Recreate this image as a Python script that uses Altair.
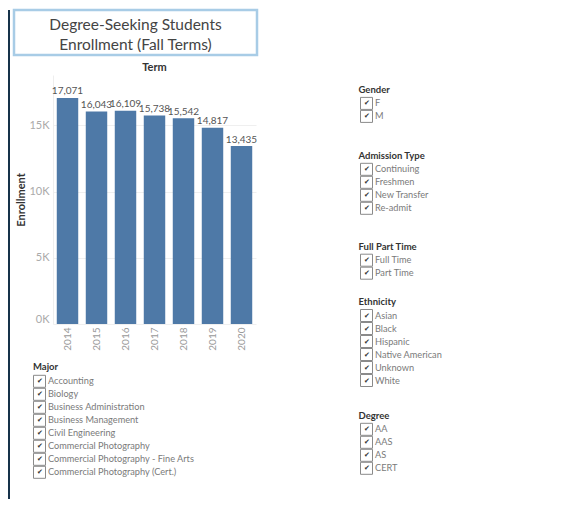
import altair as alt
import pandas as pd

# ---- data ----
years = ["2014", "2015", "2016", "2017", "2018", "2019", "2020"]
enrollment = [17071, 16043, 16109, 15738, 15542, 14817, 13435]
y_ticks = [0, 5000, 10000, 15000]
title_lines = ["Degree-Seeking Students", "Enrollment (Fall Terms)"]

majors = ["Accounting", "Biology", "Business Administration", "Business Management",
          "Civil Engineering", "Commercial Photography",
          "Commercial Photography - Fine Arts", "Commercial Photography (Cert.)"]
genders = ["F", "M"]
admission_types = ["Continuing", "Freshmen", "New Transfer", "Re-admit"]
full_part_time = ["Full Time", "Part Time"]
ethnicities = ["Asian", "Black", "Hispanic", "Native American", "Unknown", "White"]
degrees = ["AA", "AAS", "AS", "CERT"]

FONT = "Lato"
BAR = "#4e79a7"
NAVY = "#17324a"

# ---- title box ----
title_df = pd.DataFrame({"t": ["\n".join(title_lines)]})
title_box = alt.Chart(title_df).mark_text(
    lineBreak="\n", lineHeight=20, fontSize=15.5, color="#444", font=FONT,
    align="center", baseline="middle"
).encode(text="t:N", x=alt.value(121.5), y=alt.value(15)).properties(
    width=243, height=45,
    view=alt.ViewBackground(stroke="#a8cce6", strokeWidth=2.5, fill="white")
)

# ---- bar chart ----
bar_df = pd.DataFrame({"Term": years, "Enrollment": enrollment})
base = alt.Chart(bar_df).encode(
    x=alt.X("Term:O", sort=None,
            scale=alt.Scale(paddingInner=0.26, paddingOuter=0.13),
            axis=alt.Axis(title=None, labelAngle=-90, labelColor="#999",
                          labelFontSize=10, ticks=False, domain=False,
                          labelPadding=3, labelFont=FONT)),
    y=alt.Y("Enrollment:Q", scale=alt.Scale(domain=[0, 18800], nice=False),
            axis=alt.Axis(values=y_ticks, labelExpr="datum.value / 1000 + 'K'",
                          title="Enrollment", titleFontSize=11, titleFontWeight="bold",
                          titleColor="#333", titleFont=FONT, titlePadding=2,
                          labelColor="#aaa", labelFontSize=11, labelFont=FONT,
                          labelPadding=4, ticks=False, labelFlush=True,
                          domain=True, domainColor="#eeeeee",
                          grid=True, gridColor="#efefef"))
)
bars = base.mark_bar(color=BAR)
bar_labels = base.mark_text(baseline="alphabetic", dy=-3.5, fontSize=10,
                            color="#555", font=FONT).encode(
    text=alt.Text("Enrollment:Q", format=","))
bar_chart = (bars + bar_labels).properties(
    width=203, height=249,
    title=alt.TitleParams("Term", fontSize=11, fontWeight="bold", color="#333",
                          anchor="middle", offset=2, font=FONT)
)


def filter_list(title, items, width, dx=0, offset=0.7):
    df = pd.DataFrame({"item": items})
    y = alt.Y("item:N", sort=None, axis=None)
    boxes = alt.Chart(df).mark_square(size=144, fill="white", stroke="#8a8a8a",
                                      strokeWidth=1, opacity=1).encode(
        x=alt.value(dx + 6.5), y=y)
    checks = alt.Chart(df).mark_text(text="✔", fontSize=7, color="#333").encode(
        x=alt.value(dx + 6.5), y=y)
    labels = alt.Chart(df).mark_text(align="left", baseline="middle", fontSize=9.2,
                                     color="#7a7a7a", font=FONT).encode(
        x=alt.value(dx + 15), y=y, text="item:N")
    return (boxes + checks + labels).properties(
        width=width, height=alt.Step(13),
        title=alt.TitleParams(title, anchor="start", fontSize=9.5, fontWeight="bold",
                              color="#333", offset=offset, font=FONT, dx=dx)
    )


def spacer(w, h, color="white", opacity=0):
    return alt.Chart(pd.DataFrame({"k": [0]})).mark_rect(opacity=opacity).encode(
        color=alt.value(color)).properties(width=w, height=h)


major_chart = filter_list("Major", majors, 180, dx=19, offset=1.7)

bar_row = alt.hconcat(spacer(1, 1), bar_chart, spacing=0)
top_part = alt.vconcat(title_box, bar_row, spacing=5)
left_col = alt.vconcat(top_part, major_chart, spacing=10.8)

c = alt.vconcat(spacer(1, 1), filter_list("Gender", genders, 100), spacing=73.9)
c = alt.vconcat(c, filter_list("Admission Type", admission_types, 100), spacing=25.8)
c = alt.vconcat(c, filter_list("Full Part Time", full_part_time, 100), spacing=24.7)
c = alt.vconcat(c, filter_list("Ethnicity", ethnicities, 100), spacing=15)
right_col = alt.vconcat(c, filter_list("Degree", degrees, 100), spacing=21.8)

main = alt.hconcat(left_col, right_col, spacing=99)
strip = spacer(2, 489, color=NAVY, opacity=1)

chart = alt.hconcat(strip, main, spacing=2).properties(
    padding={"left": 0, "top": 0, "right": 0, "bottom": 0}
).configure(font=FONT).configure_view(strokeWidth=0)

chart.save("out.html", embed_options={"renderer": "svg", "actions": False})
